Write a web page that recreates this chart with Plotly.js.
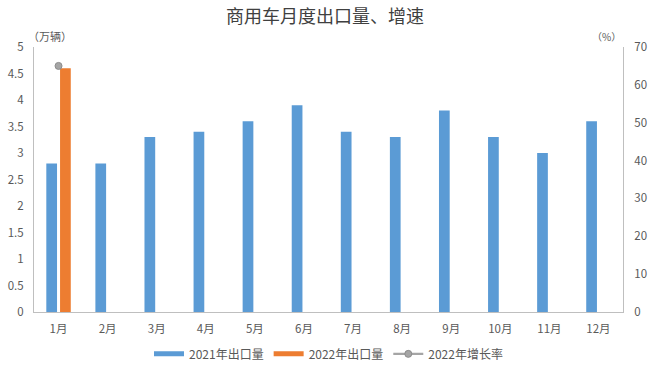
<!DOCTYPE html>
<html>
<head>
<meta charset="utf-8">
<script src="https://cdn.plot.ly/plotly-3.0.1.min.js"></script>
<style>html,body{margin:0;padding:0;background:#fff;}#chart{width:650px;height:369px;}</style>
</head>
<body>
<div id="chart"></div>
<script>
const months = ["1月","2月","3月","4月","5月","6月","7月","8月","9月","10月","11月","12月"];
const exports2021 = [2.8, 2.8, 3.3, 3.4, 3.6, 3.9, 3.4, 3.3, 3.8, 3.3, 3.0, 3.6];
const exports2022 = [4.6, null, null, null, null, null, null, null, null, null, null, null];
const growth2022 = [65, null, null, null, null, null, null, null, null, null, null, null];
const leftTicks = [0, 0.5, 1, 1.5, 2, 2.5, 3, 3.5, 4, 4.5, 5];
const rightTicks = [0, 10, 20, 30, 40, 50, 60, 70];
const seriesNames = ["2021年出口量", "2022年出口量", "2022年增长率"];
const colors = ["#5b9bd5", "#ed7d31", "#a5a5a5"];

const font = "'Noto Sans CJK SC', 'Noto Sans', sans-serif";
const traces = [
  {type: "bar", name: seriesNames[0], x: months, y: exports2021, marker: {color: colors[0]}, yaxis: "y", showlegend: false},
  {type: "bar", name: seriesNames[1], x: months, y: exports2022, marker: {color: colors[1]}, yaxis: "y", showlegend: false},
  {type: "scatter", mode: "lines+markers", name: seriesNames[2], x: months, y: growth2022, yaxis: "y2", showlegend: false,
   line: {color: colors[2], width: 2.25}, marker: {color: colors[2], size: 7, line: {color: "#8c8c8c", width: 1}}},
  // legend-only entries drawn as Excel-style swatches
  {type: "scatter", mode: "lines", name: seriesNames[0], x: [null], y: [null], line: {color: colors[0], width: 5}, hoverinfo: "skip"},
  {type: "scatter", mode: "lines", name: seriesNames[1], x: [null], y: [null], line: {color: colors[1], width: 5}, hoverinfo: "skip"},
  {type: "scatter", mode: "lines+markers", name: seriesNames[2], x: [null], y: [null], line: {color: colors[2], width: 2.25}, marker: {color: colors[2], size: 7, line: {color: "#8c8c8c", width: 1}}, hoverinfo: "skip"}
];
const layout = {
  width: 650, height: 369,
  margin: {l: 34, r: 27, t: 47, b: 57, autoexpand: false},
  paper_bgcolor: "#fff", plot_bgcolor: "#fff",
  font: {family: font, color: "#595959", size: 11},
  title: {text: "商用车月度出口量、增速", font: {family: font, size: 18, color: "#404040"}, x: 0.5, xanchor: "center", y: 0.955, yanchor: "middle"},
  barmode: "group", bargap: 0.44, bargroupgap: 0.22,
  showlegend: true,
  legend: {orientation: "h", x: 0.5, xanchor: "center", y: -0.158, yanchor: "middle", font: {size: 12, color: "#595959"}, itemwidth: 30, traceorder: "normal"},
  xaxis: {type: "category", range: [-0.5, 11.5], autorange: false, showline: true, linecolor: "#bfbfbf", linewidth: 1, showgrid: false, ticks: "", tickfont: {size: 11.5, color: "#595959"}, ticklabelstandoff: 6, zeroline: false, automargin: false},
  yaxis: {range: [0, 5], tickvals: leftTicks, ticktext: leftTicks.map(String), showline: true, linecolor: "#bfbfbf", linewidth: 1, showgrid: false, zeroline: false, ticks: "", ticklabelstandoff: 7, tickfont: {size: 11.5, color: "#595959"}, automargin: false},
  yaxis2: {range: [0, 70], tickvals: rightTicks, overlaying: "y", side: "right", showline: true, linecolor: "#bfbfbf", linewidth: 1, showgrid: false, zeroline: false, ticks: "", ticklabelstandoff: 8, tickfont: {size: 11.5, color: "#595959"}, automargin: false},
  annotations: [
    {text: "（万辆）", xref: "paper", yref: "paper", x: 0, y: 1, xanchor: "left", yanchor: "bottom", yshift: 1, xshift: -8, showarrow: false, font: {size: 11, color: "#595959"}},
    {text: "（%）", xref: "paper", yref: "paper", x: 1, y: 1, xanchor: "right", yanchor: "bottom", yshift: 1, xshift: 0, showarrow: false, font: {size: 10, color: "#595959"}}
  ]
};
Plotly.newPlot("chart", traces, layout, {displayModeBar: false, staticPlot: true});
</script>
</body>
</html>
